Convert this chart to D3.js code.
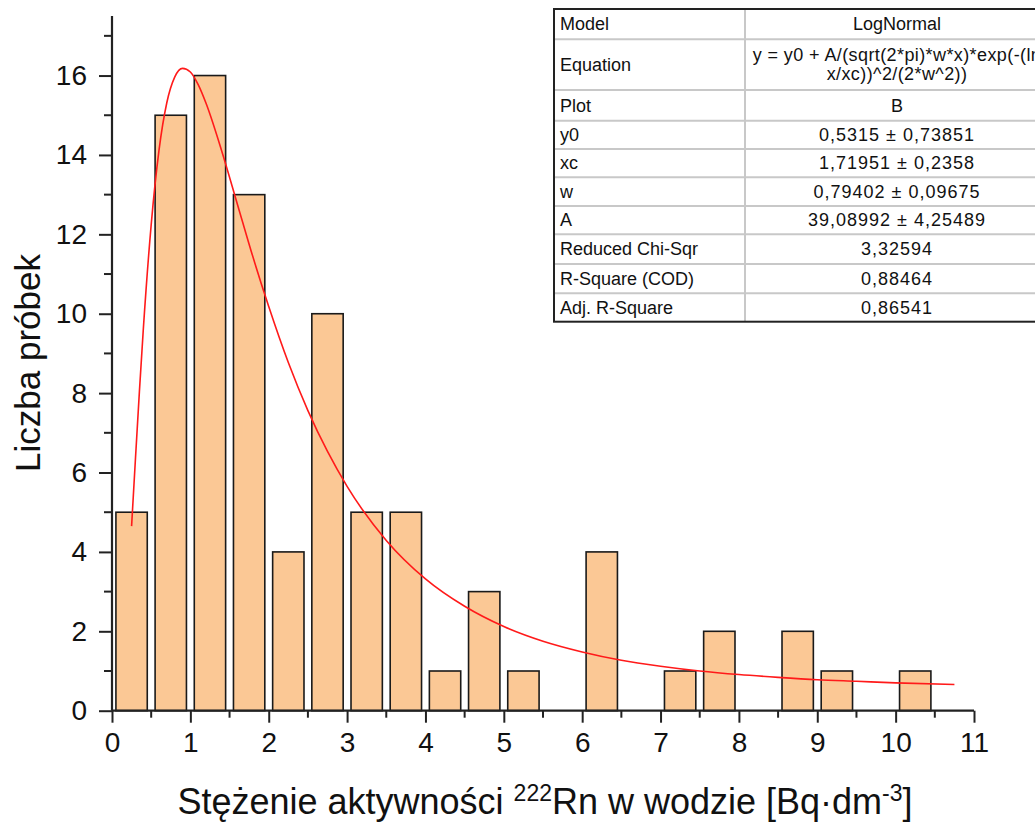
<!DOCTYPE html>
<html>
<head>
<meta charset="utf-8">
<script src="https://cdn.jsdelivr.net/npm/d3@7"></script>
<style>
  html, body { margin: 0; padding: 0; background: #fff; }
  svg { display: block; font-family: "Liberation Sans", Arial, sans-serif; }
</style>
</head>
<body>
<svg id="chart" width="1035" height="823"></svg>
<script>
// histogram: lower edge of each 0.5-wide bin and the number of samples in it
const binStart = [0, 0.5, 1, 1.5, 2, 2.5, 3, 3.5, 4, 4.5, 5, 5.5, 6, 6.5, 7, 7.5, 8, 8.5, 9, 9.5, 10];
const counts   = [5, 15, 16, 13, 4, 10, 5, 5, 1, 3, 1, 0, 4, 0, 1, 2, 0, 2, 1, 0, 1];

// LogNormal fit curve
const fitX = [0.25, 0.3, 0.35, 0.4, 0.5, 0.6, 0.7, 0.8, 0.9, 1.0, 1.1, 1.2, 1.4, 1.6, 1.8, 2.0,
              2.25, 2.5, 2.75, 3.0, 3.5, 4.0, 4.5, 5.0, 5.5, 6.0, 6.5, 7.0, 7.5, 8.0, 8.5, 9.0,
              9.5, 10.0, 10.75];
const fitY = [4.65, 6.37, 8.05, 9.62, 12.24, 14.12, 15.32, 15.96, 16.18, 16.09, 15.77, 15.30, 14.10, 12.76, 11.42, 10.18,
              8.77, 7.56, 6.53, 5.65, 4.29, 3.32, 2.63, 2.12, 1.75, 1.48, 1.27, 1.12, 1.00, 0.91, 0.84, 0.78,
              0.74, 0.70, 0.66];

const xMajor = [0, 1, 2, 3, 4, 5, 6, 7, 8, 9, 10, 11];
const xMinor = [0.5, 1.5, 2.5, 3.5, 4.5, 5.5, 6.5, 7.5, 8.5, 9.5, 10.5];
const yMajor = [0, 2, 4, 6, 8, 10, 12, 14, 16];
const yMinor = [1, 3, 5, 7, 9, 11, 13, 15, 17];

// fit report table
const tableNames  = ["Model", "Equation", "Plot", "y0", "xc", "w", "A", "Reduced Chi-Sqr", "R-Square (COD)", "Adj. R-Square"];
const tableValues = [
  ["LogNormal"],
  ["y = y0 + A/(sqrt(2*pi)*w*x)*exp(-(ln", "x/xc))^2/(2*w^2))"],
  ["B"],
  ["0,5315 ± 0,73851"],
  ["1,71951 ± 0,2358"],
  ["0,79402 ± 0,09675"],
  ["39,08992 ± 4,25489"],
  ["3,32594"],
  ["0,88464"],
  ["0,86541"]
];

const svg = d3.select("#chart");

const x = d3.scaleLinear().domain([0, 11]).range([112, 974]);
const y = d3.scaleLinear().domain([0, 17.5]).range([710.7, 16]);

const axisColor = "#222";

// bars
const binW = 0.5, gap = 0.05;
svg.append("g")
  .selectAll("rect")
  .data(binStart.map((b, i) => ({ b: b, n: counts[i] })).filter(d => d.n > 0))
  .enter().append("rect")
    .attr("x", d => x(d.b + gap))
    .attr("width", d => x(d.b + binW - gap) - x(d.b + gap))
    .attr("y", d => y(d.n))
    .attr("height", d => y(0) - y(d.n))
    .attr("fill", "#fbc895")
    .attr("stroke", "#1a1a1a")
    .attr("stroke-width", 1.6);

// fit curve
const line = d3.line()
  .curve(d3.curveMonotoneX)
  .x((d, i) => x(fitX[i]))
  .y(d => y(d));

svg.append("path")
  .datum(fitY)
  .attr("d", line)
  .attr("fill", "none")
  .attr("stroke", "#ff1a1a")
  .attr("stroke-width", 1.6);

// x axis
const xAxis = d3.axisBottom(x).tickValues(xMajor).tickSize(12).tickPadding(9).tickFormat(d3.format("d"));
const gx = svg.append("g")
  .attr("transform", "translate(0," + y(0) + ")")
  .call(xAxis);
gx.append("g").selectAll("line")
  .data(xMinor)
  .enter().append("line")
    .attr("x1", d => x(d)).attr("x2", d => x(d))
    .attr("y1", 0).attr("y2", 7)
    .attr("stroke", axisColor).attr("stroke-width", 2);

// y axis
const yAxis = d3.axisLeft(y).tickValues(yMajor).tickSize(13).tickPadding(12).tickFormat(d3.format("d"));
const gy = svg.append("g")
  .attr("transform", "translate(" + x(0) + ",0)")
  .call(yAxis);
gy.append("g").selectAll("line")
  .data(yMinor)
  .enter().append("line")
    .attr("x1", 0).attr("x2", -8)
    .attr("y1", d => y(d)).attr("y2", d => y(d))
    .attr("stroke", axisColor).attr("stroke-width", 2);

[gx, gy].forEach(g => {
  g.select(".domain").attr("stroke", axisColor).attr("stroke-width", 2.2);
  g.selectAll(".tick line").attr("stroke", axisColor).attr("stroke-width", 2);
  g.selectAll(".tick text")
    .attr("fill", "#111")
    .style("font-family", "\"Liberation Sans\", Arial, sans-serif")
    .style("font-size", "28px");
});
gy.select(".domain").attr("d", "M0," + y(17.5) + "V" + y(0));
gx.select(".domain").attr("d", "M" + x(0) + ",0H" + x(11));

// axis titles
svg.append("text")
  .attr("transform", "translate(40,363) rotate(-90)")
  .attr("text-anchor", "middle")
  .attr("fill", "#111")
  .style("font-size", "35px")
  .text("Liczba próbek");

const xt = svg.append("text")
  .attr("x", 545).attr("y", 814)
  .attr("text-anchor", "middle")
  .attr("fill", "#111")
  .style("font-size", "36px");
xt.append("tspan").text("Stężenie aktywności ");
xt.append("tspan").attr("dy", -13).style("font-size", "23px").text("222");
xt.append("tspan").attr("dy", 13).text("Rn w wodzie [Bq·dm");
xt.append("tspan").attr("dy", -13).style("font-size", "23px").text("-3");
xt.append("tspan").attr("dy", 13).text("]");

// fit table (its right part runs past the picture edge, as in the original)
const rowH = [30.3, 50.7, 30.7, 28.3, 28.3, 28.7, 28.3, 29.7, 29.3, 28.4];
const tLeft = 554, tTop = 9, colSplit = 745, tRight = 1049;
const rowTop = rowH.map((h, i) => tTop + d3.sum(rowH.slice(0, i)));
const tBottom = tTop + d3.sum(rowH);

const tbl = svg.append("g").style("font-size", "18px").attr("fill", "#111");

tbl.append("rect")
  .attr("x", tLeft).attr("y", tTop)
  .attr("width", tRight - tLeft).attr("height", tBottom - tTop)
  .attr("fill", "#fff");

tbl.selectAll("line.row")
  .data(rowTop.slice(1))
  .enter().append("line")
    .attr("class", "row")
    .attr("x1", tLeft).attr("x2", tRight)
    .attr("y1", d => d).attr("y2", d => d)
    .attr("stroke", "#c8c8c8").attr("stroke-width", 2);

tbl.append("line")
  .attr("x1", colSplit).attr("x2", colSplit)
  .attr("y1", tTop).attr("y2", tBottom)
  .attr("stroke", "#c8c8c8").attr("stroke-width", 2);

tbl.append("rect")
  .attr("x", tLeft).attr("y", tTop)
  .attr("width", tRight - tLeft).attr("height", tBottom - tTop)
  .attr("fill", "none")
  .attr("stroke", "#222").attr("stroke-width", 2);

tableNames.forEach((name, i) => {
  const cy = rowTop[i] + rowH[i] / 2;
  tbl.append("text")
    .attr("x", tLeft + 6).attr("y", cy).attr("dy", "0.35em")
    .text(name);
  const vals = tableValues[i];
  vals.forEach((v, k) => {
    const spacing = /^[0-9]/.test(v) ? "1px" : (vals.length > 1 ? "0.4px" : null);
    tbl.append("text")
      .attr("x", (colSplit + tRight) / 2)
      .attr("y", cy + (k - (vals.length - 1) / 2) * 19)
      .attr("dy", "0.35em")
      .attr("text-anchor", "middle")
      .style("letter-spacing", spacing)
      .text(v);
  });
});
</script>
</body>
</html>
